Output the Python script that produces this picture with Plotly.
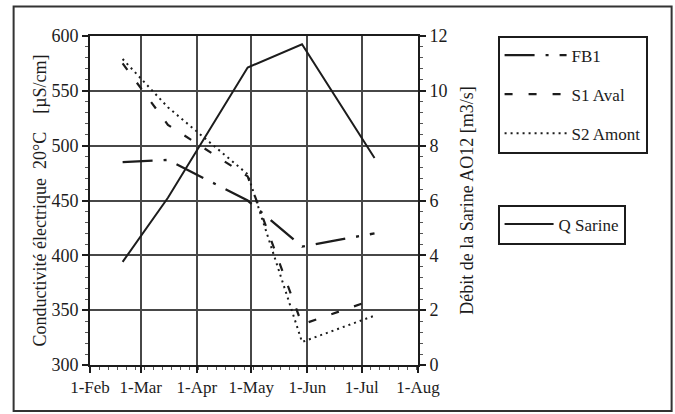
import plotly.graph_objects as go

dates = ["2001-02-19", "2001-03-16", "2001-04-29", "2001-05-29", "2001-07-08"]
fb1 = [485, 487, 450, 408, 420]
s1_aval = [575, 519, 472, 337, 360]
s2_amont = [579, 535, 474, 321, 345]
q_sarine = [3.76, 6.1, 10.85, 11.7, 7.55]

month_ticks = ["2001-02-01", "2001-03-01", "2001-04-01", "2001-05-01",
               "2001-06-01", "2001-07-01", "2001-08-01"]

FONT = "Liberation Serif, Times New Roman, serif"
INK = "#1c1c1c"

fig = go.Figure()
fig.add_trace(go.Scatter(x=dates, y=fb1, name="FB1", mode="lines",
                         line=dict(color=INK, width=2.3, dash="30px,11px,3px,11px"),
                         legend="legend", legendgroup="a"))
fig.add_trace(go.Scatter(x=dates, y=s1_aval, name="S1 Aval", mode="lines",
                         line=dict(color=INK, width=2.2, dash="8px,16px"),
                         legend="legend", legendgroup="b"))
fig.add_trace(go.Scatter(x=dates, y=s2_amont, name="S2 Amont", mode="lines",
                         line=dict(color=INK, width=2, dash="2px,4px"),
                         legend="legend", legendgroup="c"))
fig.add_trace(go.Scatter(x=dates, y=q_sarine, name="Q Sarine", mode="lines",
                         line=dict(color=INK, width=2),
                         yaxis="y2", legend="legend2"))

W, H = 675, 414
L, R, T, B = 89.5, 418, 35.5, 365
pw, ph = R - L, B - T

def px(x):
    return (x - L) / pw

def py(y):
    return (B - y) / ph

fig.update_layout(
    width=W, height=H,
    margin=dict(l=L, r=W - R, t=T, b=H - B, pad=0),
    paper_bgcolor="white", plot_bgcolor="white",
    font=dict(family=FONT, size=17, color=INK),
    xaxis=dict(
        type="date", range=["2001-02-01", "2001-08-01"],
        tickmode="array", tickvals=month_ticks, tickformat="%-d-%b",
        showgrid=True, gridcolor="#474747", gridwidth=1.5,
        showline=True, linecolor=INK, linewidth=2, mirror=True,
        ticks="outside", ticklen=6, tickwidth=1.5, tickcolor=INK,
        minor=dict(ticks="outside", ticklen=3, tickwidth=1, tickcolor="#555",
                   dtick=5 * 86400000, tick0="2001-02-01", showgrid=False),
        tickfont=dict(size=17), zeroline=False,
    ),
    yaxis=dict(
        range=[300, 600], dtick=50, tick0=300,
        showgrid=True, gridcolor="#474747", gridwidth=1.5,
        showline=True, linecolor=INK, linewidth=2,
        ticks="outside", ticklen=6, tickwidth=1.5, tickcolor=INK,
        minor=dict(ticks="outside", ticklen=3, tickwidth=1, tickcolor="#555",
                   dtick=10, showgrid=False),
        title=dict(text="Conductivité électrique  20°C    [µS/cm]",
                   font=dict(size=18), standoff=0),
        zeroline=False, tickfont=dict(size=18),
    ),
    yaxis2=dict(
        range=[0, 12], dtick=2, tick0=0, overlaying="y", side="right",
        showgrid=False, showline=True, linecolor=INK, linewidth=2,
        ticks="outside", ticklen=6, tickwidth=1.5, tickcolor=INK,
        minor=dict(ticks="outside", ticklen=3, tickwidth=1, tickcolor="#555",
                   dtick=0.4, showgrid=False),
        title=dict(text="Débit de la Sarine AO12 [m3/s]",
                   font=dict(size=18), standoff=14),
        zeroline=False, tickfont=dict(size=18),
    ),
    legend=dict(
        x=px(497.7), y=py(35), xanchor="left", yanchor="top",
        bordercolor=INK, borderwidth=2, bgcolor="white",
        font=dict(size=17, family=FONT), itemwidth=62,
        traceorder="grouped", tracegroupgap=14, entrywidth=160,
    ),
    legend2=dict(
        x=px(497.7), y=py(204.3), xanchor="left", yanchor="top",
        bordercolor=INK, borderwidth=2, bgcolor="white",
        font=dict(size=17, family=FONT), itemwidth=49, entrywidth=145,
    ),
    shapes=[dict(type="rect", xref="paper", yref="paper",
                 x0=px(13), x1=px(672), y0=py(411), y1=py(6),
                 line=dict(color="#333", width=2), layer="below")],
)

fig.write_html("out.html",
               config={"displayModeBar": False},
               post_script="document.body.style.margin='0';"
                           "document.body.style.overflow='hidden';")
